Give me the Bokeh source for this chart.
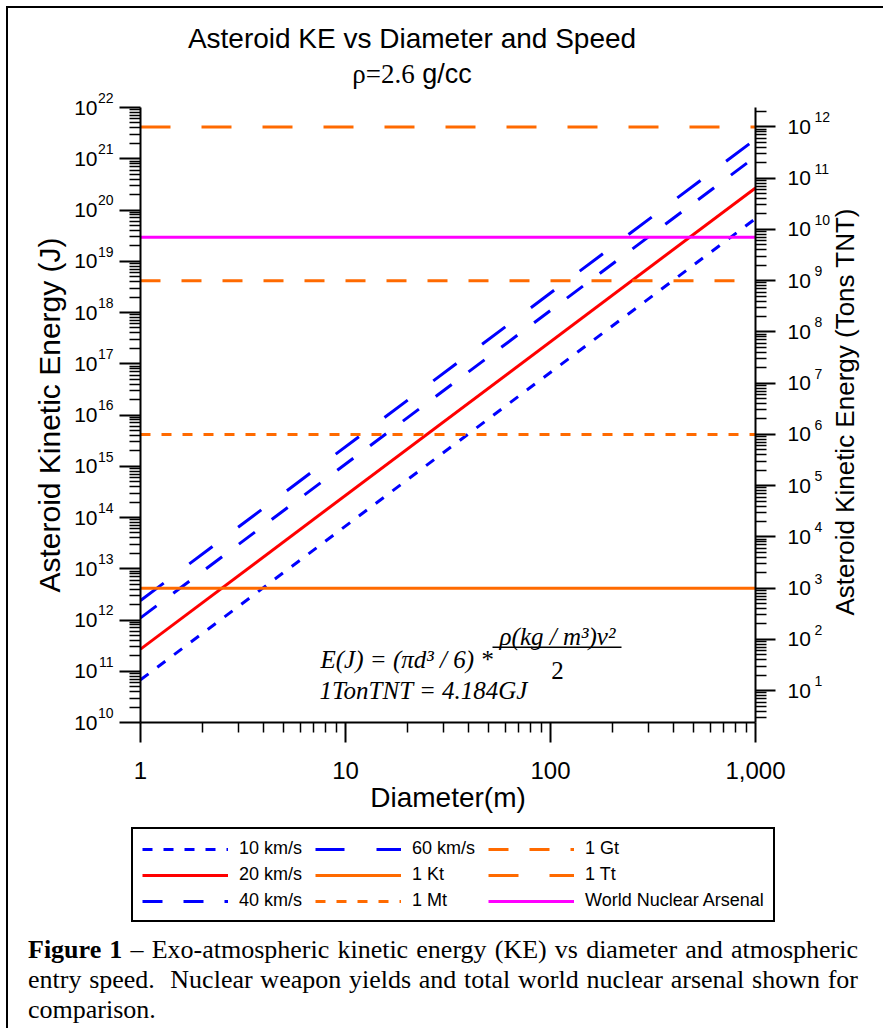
import math
from bokeh.plotting import figure
from bokeh.models import (LogAxis, LogScale, Range1d, FixedTicker, Label, Legend, LegendItem,
                          Div, BoxAnnotation)
from bokeh.layouts import column, row
from bokeh.embed import file_html
from bokeh.resources import INLINE

# ---------------- data ----------------
diameter_m = [1, 1000]
ke_10kms = [6.8e10, 6.8e19]
ke_20kms = [2.7e11, 2.7e20]
ke_40kms = [1.1e12, 1.1e21]
ke_60kms = [2.4e12, 2.4e21]
speed_labels = ["10 km/s", "20 km/s", "40 km/s", "60 km/s"]
yield_labels = ["1 Kt", "1 Mt", "1 Gt", "1 Tt", "World Nuclear Arsenal"]
yield_tons = [1e3, 1e6, 1e9, 1e12, 7.0e9]
joules_per_ton = 4.184e9
x_ticks = [1, 10, 100, 1000]
x_tick_labels = ["1", "10", "100", "1,000"]
y_exp_joules = list(range(10, 23))
y_exp_tons = list(range(1, 13))

# ---------------- styling / geometry ----------------
SANS = "Liberation Sans"
SERIF = "Liberation Serif"
BLUE, RED, ORANGE, MAGENTA = "#0000ff", "#ff0000", "#ff6a00", "#ff00ff"
X0, X1, Y0, Y1 = 1, 1000, 1e10, 1e22
FL, FT, FW, FH = 140, 107, 615, 615      # frame position on the page (px)
OX, OY = 8, 8                            # page position of the content
TITLE_H = 81                             # title block height
PT = 18                                  # plot canvas above the frame
PB = 100                                 # plot canvas below the frame
PW = 822                                 # plot canvas width
RW = 50                                  # right label strip
TOTAL_W = PW + RW
LEG_H = 106
CAP_H = 100
NAN = float("nan")


def fx(px):
    return 10 ** (math.log10(X0) + (px - FL) / FW * (math.log10(X1) - math.log10(X0)))


def fy(py):
    return 10 ** (math.log10(Y1) - (py - FT) / FH * (math.log10(Y1) - math.log10(Y0)))


p = figure(frame_width=FW, frame_height=FH, x_axis_type="log", y_axis_type="log",
           x_range=Range1d(X0, X1), y_range=Range1d(Y0, Y1), title=None,
           output_backend="svg", toolbar_location=None,
           min_border_left=FL - OX, min_border_top=PT,
           min_border_right=PW - (FL - OX) - FW, min_border_bottom=PB)
p.outline_line_color = None
p.grid.visible = False
p.background_fill_color = "white"
p.border_fill_color = "white"

p.extra_y_ranges = {"tons": Range1d(Y0 / joules_per_ton, Y1 / joules_per_ton)}
p.extra_y_scales = {"tons": LogScale()}


def style_axis(ax, major_out, minor_out):
    ax.axis_line_width = 2
    ax.axis_line_color = "black"
    ax.major_tick_line_width = 2
    ax.major_tick_out = major_out
    ax.major_tick_in = 0
    ax.minor_tick_line_width = 1.5
    ax.minor_tick_out = minor_out
    ax.minor_tick_in = 0
    ax.major_label_text_font = SANS
    ax.major_label_text_color = "black"
    ax.axis_label_text_font = SANS
    ax.axis_label_text_font_style = "normal"
    ax.axis_label_text_color = "black"


def label_only_axis(ax):
    ax.axis_line_color = None
    ax.major_tick_line_color = None
    ax.minor_tick_line_color = None
    ax.major_tick_out = 0
    ax.major_tick_in = 0
    ax.minor_tick_out = 0
    ax.minor_tick_in = 0
    ax.major_label_text_font = SANS
    ax.major_label_text_color = "black"
    ax.axis_label_text_font = SANS
    ax.axis_label_text_font_style = "normal"
    ax.axis_label_text_color = "black"


# ---- left axis: ticks + exponents (inner), "10" + title (outer)
left_ticks = [10.0 ** e for e in y_exp_joules]
left_minor = [k * 10.0 ** e for e in y_exp_joules[:-1] for k in range(2, 10)]
left_axis = p.yaxis[0]
style_axis(left_axis, 21, 11)
left_axis.ticker = FixedTicker(ticks=left_ticks, minor_ticks=left_minor)
left_axis.major_label_overrides = {t: f"{e}\n " for t, e in zip(left_ticks, y_exp_joules)}
left_axis.major_label_text_font_size = "14px"
left_axis.major_label_standoff = 6

left_base = LogAxis(ticker=FixedTicker(ticks=left_ticks, minor_ticks=[]))
label_only_axis(left_base)
left_base.major_label_overrides = {t: "10" for t in left_ticks}
left_base.major_label_text_font_size = "21px"
left_base.major_label_standoff = -3
left_base.axis_label = "Asteroid Kinetic Energy (J)"
left_base.axis_label_text_font_size = "30px"
left_base.axis_label_standoff = 5
p.add_layout(left_base, "left")

# ---- right axis: ticks + "10" (inner), exponents (outer)
right_ticks = [10.0 ** e for e in y_exp_tons]
right_minor = [k * 10.0 ** e for e in [0] + y_exp_tons for k in range(2, 10)]
right_axis = LogAxis(y_range_name="tons", ticker=FixedTicker(ticks=right_ticks, minor_ticks=right_minor))
style_axis(right_axis, 20, 11)
right_axis.major_label_overrides = {t: "10" for t in right_ticks}
right_axis.major_label_text_font_size = "21px"
right_axis.major_label_standoff = 12
p.add_layout(right_axis, "right")

right_exp = LogAxis(y_range_name="tons", ticker=FixedTicker(ticks=right_ticks, minor_ticks=[]))
label_only_axis(right_exp)
right_exp.major_label_overrides = {t: f"{e}\n " for t, e in zip(right_ticks, y_exp_tons)}
right_exp.major_label_text_font_size = "14px"
right_exp.major_label_standoff = 1
p.add_layout(right_exp, "right")

# ---- bottom axis
bottom_axis = p.xaxis[0]
style_axis(bottom_axis, 20, 10)
bottom_axis.ticker = FixedTicker(ticks=x_ticks,
                                 minor_ticks=[k * 10.0 ** e for e in range(0, 3) for k in range(2, 10)])
bottom_axis.major_label_overrides = {t: s for t, s in zip(x_ticks, x_tick_labels)}
bottom_axis.major_label_text_font_size = "24px"
bottom_axis.major_label_standoff = 19
bottom_axis.axis_label = "Diameter(m)"
bottom_axis.axis_label_text_font_size = "28px"
bottom_axis.axis_label_standoff = 0

# ---------------- series ----------------
speed_series = [ke_10kms, ke_20kms, ke_40kms, ke_60kms]
speed_styles = [
    dict(line_color=BLUE, line_width=3, line_dash="10 11"),
    dict(line_color=RED, line_width=3),
    dict(line_color=BLUE, line_width=3, line_dash="20 21"),
    dict(line_color=BLUE, line_width=3, line_dash="29 32"),
]
for ke, st in zip(speed_series, speed_styles):
    p.line(diameter_m, ke, **st)

yield_styles = [
    dict(line_color=ORANGE, line_width=3),
    dict(line_color=ORANGE, line_width=3, line_dash="10 11"),
    dict(line_color=ORANGE, line_width=3, line_dash="20 21"),
    dict(line_color=ORANGE, line_width=3, line_dash="30 31"),
    dict(line_color=MAGENTA, line_width=3),
]
for t, st in zip(yield_tons, yield_styles):
    p.line(diameter_m, [t, t], y_range_name="tons", **st)

# ---------------- equation ----------------
eq = dict(text_font=SERIF, text_font_size="25px", text_color="black", text_baseline="alphabetic")
p.add_layout(Label(x=fx(320), y=fy(659), text="E(J) = (\u03c0d\u00b3 / 6) *", text_align="left",
                   text_font_style="italic", **eq))
p.add_layout(Label(x=fx(557), y=fy(636), text="\u03c1(kg / m\u00b3)v\u00b2", text_align="center",
                   text_font_style="italic", **eq))
p.add_layout(BoxAnnotation(left=fx(492), right=fx(621), top=fy(646), bottom=fy(647.5),
                           fill_color="black", fill_alpha=1, line_color=None))
p.add_layout(Label(x=fx(557), y=fy(670), text="2", text_align="center", **eq))
p.add_layout(Label(x=fx(319), y=fy(690), text="1TonTNT = 4.184GJ", text_align="left",
                   text_font_style="italic", **eq))

# ---------------- legend (own canvas, same line styles, no visible data) ----------------
lf = figure(frame_width=TOTAL_W, frame_height=LEG_H, x_range=Range1d(0, 1), y_range=Range1d(0, 1),
            title=None, output_backend="svg", toolbar_location=None, min_border=0,
            x_axis_location=None, y_axis_location=None)
lf.grid.visible = False
lf.outline_line_color = None
lf.background_fill_color = "white"
lf.border_fill_color = "white"
legend_items = []
for lab, st in zip(speed_labels + yield_labels, speed_styles + yield_styles):
    proxy = lf.line([NAN, NAN], [NAN, NAN], **st)
    legend_items.append(LegendItem(label=lab, renderers=[proxy]))
legend = Legend(items=legend_items, location=(131 - OX, 6), orientation="vertical", ncols=3,
                glyph_width=86, glyph_height=20, label_standoff=11, label_width=71, label_height=20,
                spacing=5, padding=9, margin=0, border_line_color="black", border_line_width=2,
                border_line_alpha=1,
                label_text_font=SANS, label_text_font_size="18px", label_text_color="black",
                background_fill_color="white", background_fill_alpha=1)
lf.add_layout(legend)

# ---------------- title block ----------------
title_html = (
    f"<div style=\"position:relative;width:{TOTAL_W}px;height:{TITLE_H}px;color:black;"
    "font-family:'Liberation Sans',sans-serif;\">"
    "<div style=\"position:absolute;left:0;width:808px;top:17px;text-align:center;"
    "font-size:28px;line-height:28px;white-space:nowrap;\">Asteroid KE vs Diameter and Speed</div>"
    "<div style=\"position:absolute;left:0;width:808px;top:53px;text-align:center;"
    "font-size:27px;line-height:27px;white-space:nowrap;\">"
    "<span style=\"font-family:'Liberation Serif',serif;\">\u03c1=2.6</span> g/cc</div></div>"
)
title_div = Div(text=title_html, width=TOTAL_W, height=TITLE_H, margin=0)

# ---------------- right axis title strip ----------------
plot_h = PT + FH + PB
right_html = (
    f"<div style=\"position:relative;width:{RW}px;height:{plot_h}px;\">"
    f"<div style=\"position:absolute;left:12px;top:{412 - (OY + TITLE_H)}px;"
    "transform:translate(-50%,-50%) rotate(-90deg);white-space:nowrap;"
    "font-family:'Liberation Sans',sans-serif;font-size:26px;line-height:30px;color:black;\">"
    "Asteroid Kinetic Energy (Tons TNT)</div></div>"
)
right_div = Div(text=right_html, width=RW, height=plot_h, margin=0)

# ---------------- caption ----------------
line1 = "<b>Figure 1</b> \u2013 Exo-atmospheric kinetic energy (KE) vs diameter and atmospheric"
line2 = "entry speed.&nbsp; Nuclear weapon yields and total world nuclear arsenal shown for"
line3 = "comparison."
jst = "text-align:justify;text-align-last:justify;white-space:nowrap;"
cap_html = (
    "<div style=\"font-family:'Liberation Serif',serif;font-size:26px;line-height:30px;"
    "color:black;padding:7px 0 0 20px;width:850px;\">"
    f"<div style=\"{jst}\">{line1}</div>"
    f"<div style=\"{jst}\">{line2}</div>"
    f"<div>{line3}</div></div>"
)
cap = Div(text=cap_html, width=TOTAL_W, height=CAP_H, margin=0)

layout = column(title_div, row(p, right_div, spacing=0), lf, cap, spacing=0,
                margin=(OY - 2, 0, 0, OX - 2),
                styles={"border-left": "2px solid black", "border-top": "2px solid black"})

open("out.html", "w").write(file_html(layout, INLINE))
